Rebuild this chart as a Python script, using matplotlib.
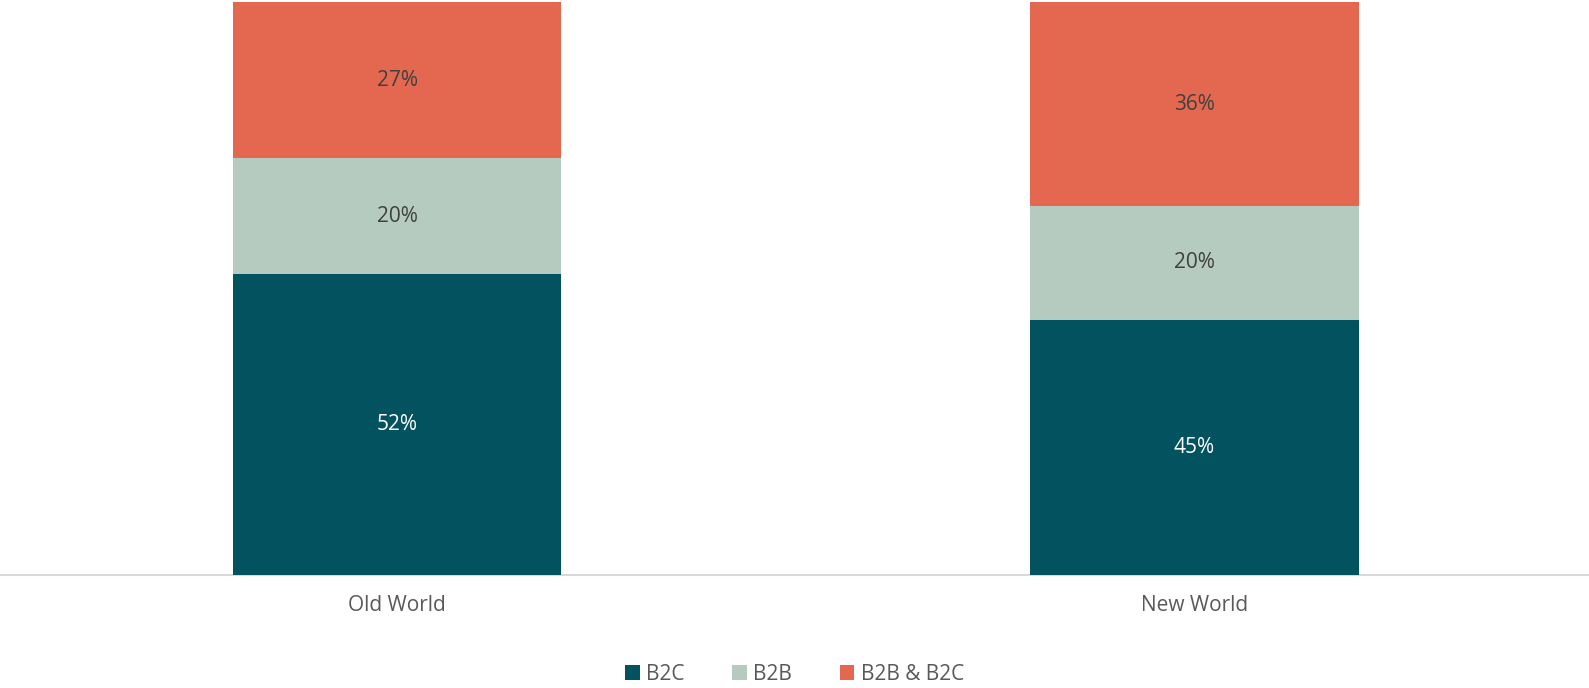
import matplotlib
matplotlib.use("Agg")
import matplotlib.pyplot as plt
import numpy as np

categories = ["Old World", "New World"]
series_names = ["B2C", "B2B", "B2B & B2C"]
b2c = [52, 45]
b2b = [20, 20]
both = [27, 36]

colors = ["#02535F", "#B5CBBF", "#E46850"]
label_colors = ["#FFFFFF", "#404040", "#404040"]

plt.rcParams['font.family'] = ['Open Sans', 'DejaVu Sans']

fig = plt.figure(figsize=(15.89, 6.88), dpi=100)
ax = fig.add_axes([0, 1 - 574.5 / 688, 1, (574.5 - 2.3) / 688])

data = np.array([b2c, b2b, both], dtype=float)
totals = data.sum(axis=0)
shares = data / totals * 100
x = np.arange(len(categories))
bottom = np.zeros(len(categories))
handles = []
for i, name in enumerate(series_names):
    h = ax.bar(x, shares[i], 0.412, bottom=bottom, color=colors[i], label=name, zorder=2)
    handles.append(h)
    for j in range(len(categories)):
        ax.text(x[j], bottom[j] + shares[i][j] / 2, f"{data[i][j]:.0f}%",
                ha="center", va="center", fontsize=15, color=label_colors[i], zorder=3)
    bottom += shares[i]

ax.set_xlim(-0.498, 1.495)
ax.set_ylim(0, 100)
ax.set_yticks([])
ax.set_xticks(x)
ax.set_xticklabels(categories, fontsize=15, color="#595959")
ax.tick_params(axis="x", length=0, pad=15)
for s in ["top", "left", "right"]:
    ax.spines[s].set_visible(False)
ax.spines["bottom"].set_color("#D9D9D9")
ax.spines["bottom"].set_linewidth(1.5)
ax.spines["bottom"].set_zorder(1)

fig.legend(handles=handles, labels=series_names, loc="center",
           bbox_to_anchor=(0.5, 1 - 674 / 688), ncol=3, frameon=False,
           fontsize=15, labelcolor="#595959", handlelength=0.7, handleheight=0.7,
           handletextpad=0.3, columnspacing=2.3)

fig.savefig("out.png", dpi=100)
